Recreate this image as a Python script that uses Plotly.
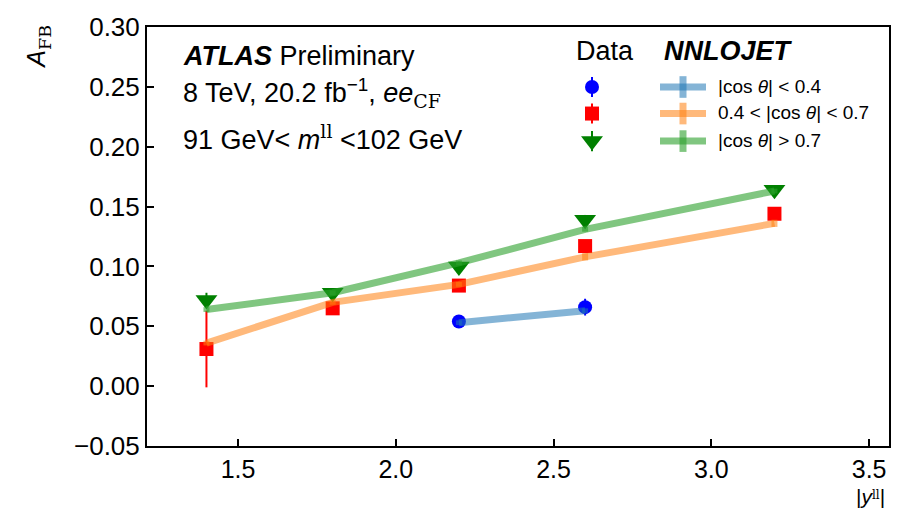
import plotly.graph_objects as go

# ---------------- data ----------------
x_blue = [2.2, 2.6]
data_blue = [0.054, 0.066]
data_blue_err = [0.003, 0.007]
nnlo_blue = [0.053, 0.063]
nnlo_blue_err = [0.002, 0.002]

x_red = [1.4, 1.8, 2.2, 2.6, 3.2]
data_red = [0.031, 0.065, 0.084, 0.117, 0.144]
data_red_err = [0.032, 0.003, 0.003, 0.004, 0.004]
nnlo_red = [0.036, 0.070, 0.085, 0.108, 0.136]
nnlo_red_err = [0.002, 0.002, 0.002, 0.003, 0.003]

x_green = [1.4, 1.8, 2.2, 2.6, 3.2]
data_green = [0.072, 0.078, 0.100, 0.139, 0.164]
data_green_err = [0.006, 0.003, 0.004, 0.004, 0.003]
nnlo_green = [0.064, 0.078, 0.103, 0.131, 0.163]
nnlo_green_err = [0.002, 0.002, 0.002, 0.002, 0.002]

y_ticks = [-0.05, 0.00, 0.05, 0.10, 0.15, 0.20, 0.25, 0.30]
x_ticks = [1.5, 2.0, 2.5, 3.0, 3.5]

legend_labels = ["|cos <i>θ</i>| &lt; 0.4",
                 "0.4 &lt; |cos <i>θ</i>| &lt; 0.7",
                 "|cos <i>θ</i>| &gt; 0.7"]

FONT = "Liberation Sans, Arial, sans-serif"
SERIF = "DejaVu Serif, serif"

fig = go.Figure()

data_sets = [
    (x_blue, data_blue, data_blue_err, "blue", "circle", 14),
    (x_red, data_red, data_red_err, "red", "square", 14),
    (x_green, data_green, data_green_err, "green", "triangle-down", 19),
]
for xs, ys, es, col, sym, sz in data_sets:
    fig.add_trace(go.Scatter(
        x=xs, y=ys, mode="markers",
        marker=dict(color=col, symbol=sym, size=sz, line=dict(width=0)),
        error_y=dict(type="data", array=es, color=col, thickness=2, width=0),
        showlegend=False))

nnlo_sets = [
    (x_blue, nnlo_blue, nnlo_blue_err, "rgba(31,119,180,0.55)"),
    (x_red, nnlo_red, nnlo_red_err, "rgba(255,127,14,0.55)"),
    (x_green, nnlo_green, nnlo_green_err, "rgba(44,160,44,0.6)"),
]
for xs, ys, es, col in nnlo_sets:
    fig.add_trace(go.Scatter(
        x=xs, y=ys, mode="lines",
        line=dict(color=col, width=7),
        error_y=dict(type="data", array=es, color=col, thickness=6, width=0),
        showlegend=False))

# ---------- manual legend ----------
px = lambda p: (p - 147) / 742.0
py = lambda p: (446 - p) / 426.0
rows = [81, 108, 136]
leg_data = [("blue", "circle", 14), ("red", "square", 14), ("green", "triangle-down", 19)]
leg_cols = ["rgba(31,119,180,0.55)", "rgba(255,127,14,0.55)", "rgba(44,160,44,0.6)"]
for i, (col, sym, sz) in enumerate(leg_data):
    fig.add_trace(go.Scatter(
        x=[px(592)], y=[py(rows[i])], mode="markers", xaxis="x2", yaxis="y2",
        marker=dict(color=col, symbol=sym, size=sz, line=dict(width=0)),
        error_y=dict(type="constant", value=0.024, color=col, thickness=2, width=0),
        showlegend=False, hoverinfo="skip"))
    fig.add_shape(type="line", xref="paper", yref="paper",
                  x0=px(660), x1=px(706), y0=py(rows[i]), y1=py(rows[i]),
                  line=dict(color=leg_cols[i], width=7))
    fig.add_shape(type="line", xref="paper", yref="paper",
                  x0=px(683), x1=px(683), y0=py(rows[i] - 11), y1=py(rows[i] + 11),
                  line=dict(color=leg_cols[i], width=7))
    fig.add_annotation(x=px(716), y=py(rows[i] - 1), xref="paper", yref="paper",
                       text=legend_labels[i], showarrow=False,
                       xanchor="left", yanchor="middle",
                       font=dict(family=FONT, size=19, color="black"))

fig.add_annotation(x=px(574), y=py(44), xref="paper", yref="paper", text="Data",
                   showarrow=False, xanchor="left", yanchor="middle",
                   font=dict(family=FONT, size=27, color="black"))
fig.add_annotation(x=px(662), y=py(44), xref="paper", yref="paper",
                   text="<b><i>NNLOJET</i></b>",
                   showarrow=False, xanchor="left", yanchor="middle",
                   font=dict(family=FONT, size=27, color="black"))

# ---------- ATLAS text ----------
fig.add_annotation(x=px(181), y=py(49), xref="paper", yref="paper",
                   text="<b><i>ATLAS</i></b> Preliminary",
                   showarrow=False, xanchor="left", yanchor="middle",
                   font=dict(family=FONT, size=27, color="black"))
fig.add_annotation(x=px(181), y=py(87), xref="paper", yref="paper",
                   text="8 TeV, 20.2 fb<sup>−1</sup>, <i>ee</i><sub><span style='font-family:" + SERIF + "'>CF</span></sub>",
                   showarrow=False, xanchor="left", yanchor="middle",
                   font=dict(family=FONT, size=27, color="black"))
fig.add_annotation(x=px(181), y=py(132), xref="paper", yref="paper",
                   text="91 GeV&lt; <i>m</i><sup><span style='font-family:" + SERIF + "'>ll</span></sup> &lt;102 GeV",
                   showarrow=False, xanchor="left", yanchor="middle",
                   font=dict(family=FONT, size=27, color="black"))

# axis titles
fig.add_annotation(x=px(38), y=py(40), xref="paper", yref="paper",
                   text="<i>A</i><sub><span style='font-family:" + SERIF + "'>FB</span></sub>",
                   textangle=-90, showarrow=False, xanchor="center", yanchor="middle",
                   font=dict(family=FONT, size=25, color="black"))
fig.add_annotation(x=px(870), y=py(497), xref="paper", yref="paper",
                   text="|<i>y</i><span style='font-family:" + SERIF + ";font-size:12px;baseline-shift:40%'>ll</span>|",
                   showarrow=False, xanchor="center", yanchor="middle",
                   font=dict(family=FONT, size=21, color="black"))

fig.update_layout(
    width=903, height=510,
    margin=dict(l=147, r=14, t=20, b=64),
    plot_bgcolor="white", paper_bgcolor="white",
    showlegend=False,
    xaxis=dict(range=[1.2116, 3.563], tickvals=x_ticks, tickformat=".1f",
               ticks="inside", ticklen=7, tickwidth=1.5, tickcolor="black",
               showline=True, linecolor="black", linewidth=2, mirror=True,
               showgrid=False, zeroline=False,
               tickfont=dict(family=FONT, size=25, color="black")),
    yaxis=dict(range=[-0.05, 0.30], tickvals=y_ticks, tickformat=".2f",
               ticks="inside", ticklen=7, tickwidth=1.5, tickcolor="black",
               showline=True, linecolor="black", linewidth=2, mirror=True,
               showgrid=False, zeroline=False,
               tickfont=dict(family=FONT, size=26, color="black")),
    xaxis2=dict(overlaying="x", range=[0, 1], visible=False, domain=[0, 1]),
    yaxis2=dict(overlaying="y", range=[0, 1], visible=False),
)

fig.write_html("out.html")
